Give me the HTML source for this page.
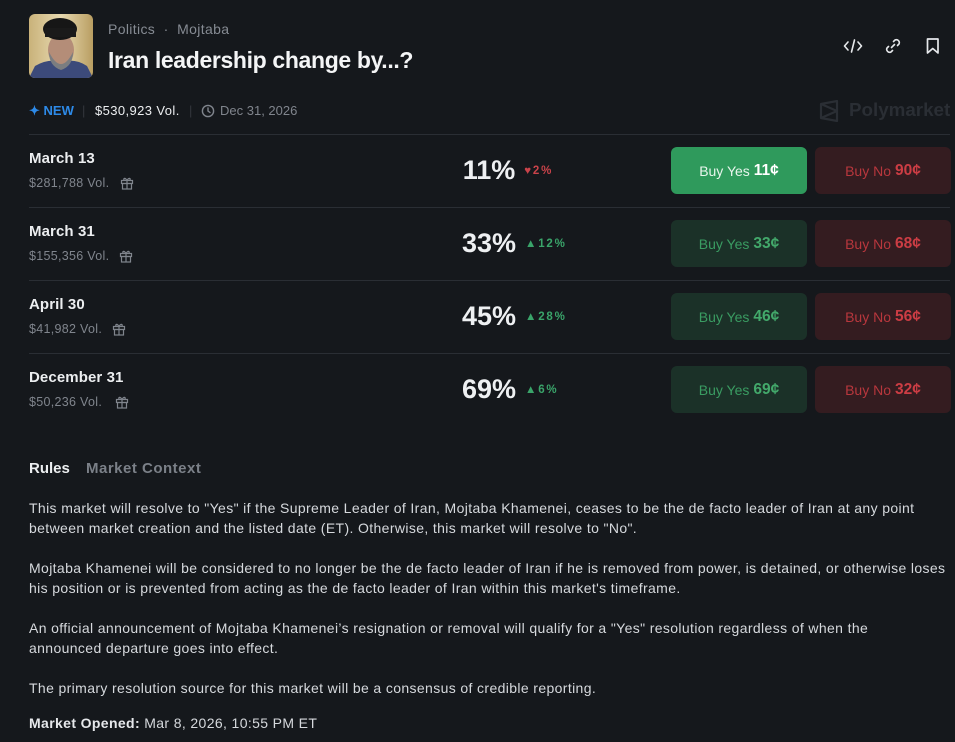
<!DOCTYPE html>
<html><head><meta charset="utf-8">
<style>
*{margin:0;padding:0;box-sizing:border-box}
body{width:955px;height:742px;background:#15181c;font-family:"Liberation Sans",Arial,sans-serif;color:#e6e8eb;position:relative;overflow:hidden}
.a{position:absolute;white-space:nowrap}
.cat{left:108px;top:21px;font-size:14px;color:#868b93;letter-spacing:0.35px}
.title{left:108px;top:47px;font-size:23px;font-weight:bold;color:#f4f5f6;letter-spacing:-0.35px}
.meta{top:103px;font-size:13px}
.hr{position:absolute;left:29px;width:921px;height:1px;background:#2a2e34}
.rt{left:29px;font-size:15px;font-weight:bold;color:#eceef0;letter-spacing:0.1px}
.rv{left:29px;font-size:12.5px;color:#80858d;letter-spacing:0.3px}
.pc{position:absolute;left:389px;width:200px;text-align:center}
.pw{display:inline-block;position:relative;font-size:27px;font-weight:bold;color:#eef0f2;letter-spacing:0}
.ch{position:absolute;top:10px;left:calc(100% + 9px);font-size:11.5px;letter-spacing:1.8px;white-space:nowrap}
.up{color:#3aa46a}.dn{color:#c9434a}
.btn{position:absolute;width:136px;height:47px;border-radius:6px;font-size:14px;display:flex;align-items:center;justify-content:center}
.yes{left:671px;background:#1b3128;color:#3a9c62}
.yes b{font-size:15.5px;margin-left:4px;color:#43a96b}
.yesA{background:#2f9a5c;color:#e8f5ec}
.yesA b{color:#fff}
.no{left:815px;background:#341c20;color:#b8373d}
.no b{font-size:15.5px;margin-left:4px;color:#cc3d44}
.p{left:29px;font-size:14px;color:#d6d9dd;line-height:20px;letter-spacing:0.37px}
</style></head><body>

<!-- avatar -->
<svg class="a" style="left:29px;top:14px" width="64" height="64" viewBox="0 0 64 64">
<defs><clipPath id="c"><rect width="64" height="64" rx="6"/></clipPath>
<linearGradient id="bg" x1="0" x2="1"><stop offset="0" stop-color="#c9b27a"/><stop offset="0.5" stop-color="#e7d9b0"/><stop offset="1" stop-color="#b99e62"/></linearGradient></defs>
<g clip-path="url(#c)">
<rect width="64" height="64" fill="url(#bg)"/>
<path d="M0 64 L6 52 Q20 44 32 48 Q46 44 58 52 L64 64Z" fill="#3c4a7a"/>
<ellipse cx="32" cy="36" rx="13" ry="16" fill="#b48d78"/>
<path d="M20 38 Q32 62 44 38 Q44 52 32 56 Q20 52 20 38Z" fill="#7b7d80"/>
<ellipse cx="31" cy="15" rx="17" ry="11" fill="#161616"/>
<rect x="16" y="14" width="31" height="9" fill="#1a1a1a"/>
</g></svg>

<div class="a cat">Politics&nbsp; ·&nbsp; Mojtaba</div>
<div class="a title">Iran leadership change by...?</div>

<!-- icons -->
<svg class="a" style="left:843px;top:37px" width="20" height="18" viewBox="0 0 20 18" fill="none" stroke="#e6e8eb" stroke-width="1.6" stroke-linecap="round" stroke-linejoin="round"><path d="M5 5 L1.5 9 L5 13"/><path d="M15 5 L18.5 9 L15 13"/><path d="M11.5 3 L8.5 15"/></svg>
<svg class="a" style="left:884px;top:37px" width="18" height="18" viewBox="0 0 18 18" fill="none" stroke="#e6e8eb" stroke-width="1.6" stroke-linecap="round"><path d="M7.5 10.5 L10.5 7.5"/><path d="M9.5 4.5 L11 3 A3 3 0 0 1 15 7 L13.5 8.5"/><path d="M8.5 13.5 L7 15 A3 3 0 0 1 3 11 L4.5 9.5"/></svg>
<svg class="a" style="left:925px;top:37px" width="16" height="18" viewBox="0 0 16 18" fill="none" stroke="#e6e8eb" stroke-width="1.7" stroke-linejoin="round"><path d="M2.5 2 H13 V16 L7.75 11.5 L2.5 16 Z"/></svg>

<!-- meta row -->
<div class="a meta" style="left:29px;color:#2d8ae8;font-weight:bold">✦ NEW</div>
<div class="a meta" style="left:82px;color:#33373d">|</div>
<div class="a meta" style="left:95px;color:#eceef0;letter-spacing:0.4px">$530,923 Vol.</div>
<div class="a meta" style="left:189px;color:#33373d">|</div>
<svg class="a" style="left:201px;top:104px" width="14" height="14" viewBox="0 0 14 14" fill="none" stroke="#80858d" stroke-width="1.4"><circle cx="7" cy="7" r="5.6"/><path d="M7 4 V7 L9 8.5" stroke-linecap="round"/></svg>
<div class="a meta" style="left:220px;color:#80858d">Dec 31, 2026</div>

<!-- polymarket watermark -->
<svg class="a" style="left:818px;top:100px" width="22" height="22" viewBox="0 0 22 22" fill="none" stroke="#2a2e34" stroke-width="2.2" stroke-linejoin="round"><path d="M3 4 L19 1 V21 L3 18 Z"/><path d="M3 4 L19 11 L3 18"/></svg>
<div class="a" style="left:849px;top:99px;font-size:18.8px;font-weight:bold;color:#2a2e34">Polymarket</div>

<div class="hr" style="top:134px"></div>

<!-- row 1 -->
<div class="a rt" style="top:150px">March 13</div>
<div class="a rv" style="top:176px">$281,788 Vol.</div>
<svg class="a gift" style="left:120px;top:176px" width="14" height="14" viewBox="0 0 14 14" fill="none" stroke="#80858d" stroke-width="1.2"><rect x="1.5" y="4.5" width="11" height="3"/><rect x="2.5" y="7.5" width="9" height="5.5"/><path d="M7 4.5 V13"/><path d="M7 4.5 C5 1 2.5 2.5 4.5 4.5 M7 4.5 C9 1 11.5 2.5 9.5 4.5"/></svg>
<div class="pc" style="top:155px"><span class="pw">11%<span class="ch dn">♥2%</span></span></div>
<div class="btn yes yesA" style="top:147px">Buy Yes<b>11¢</b></div>
<div class="btn no" style="top:147px">Buy No<b>90¢</b></div>
<div class="hr" style="top:207px"></div>

<!-- row 2 -->
<div class="a rt" style="top:223px">March 31</div>
<div class="a rv" style="top:249px">$155,356 Vol.</div>
<svg class="a" style="left:119px;top:249px" width="14" height="14" viewBox="0 0 14 14" fill="none" stroke="#80858d" stroke-width="1.2"><rect x="1.5" y="4.5" width="11" height="3"/><rect x="2.5" y="7.5" width="9" height="5.5"/><path d="M7 4.5 V13"/><path d="M7 4.5 C5 1 2.5 2.5 4.5 4.5 M7 4.5 C9 1 11.5 2.5 9.5 4.5"/></svg>
<div class="pc" style="top:228px"><span class="pw">33%<span class="ch up">▲12%</span></span></div>
<div class="btn yes" style="top:220px">Buy Yes<b>33¢</b></div>
<div class="btn no" style="top:220px">Buy No<b>68¢</b></div>
<div class="hr" style="top:280px"></div>

<!-- row 3 -->
<div class="a rt" style="top:296px">April 30</div>
<div class="a rv" style="top:322px">$41,982 Vol.</div>
<svg class="a" style="left:112px;top:322px" width="14" height="14" viewBox="0 0 14 14" fill="none" stroke="#80858d" stroke-width="1.2"><rect x="1.5" y="4.5" width="11" height="3"/><rect x="2.5" y="7.5" width="9" height="5.5"/><path d="M7 4.5 V13"/><path d="M7 4.5 C5 1 2.5 2.5 4.5 4.5 M7 4.5 C9 1 11.5 2.5 9.5 4.5"/></svg>
<div class="pc" style="top:301px"><span class="pw">45%<span class="ch up">▲28%</span></span></div>
<div class="btn yes" style="top:293px">Buy Yes<b>46¢</b></div>
<div class="btn no" style="top:293px">Buy No<b>56¢</b></div>
<div class="hr" style="top:353px"></div>

<!-- row 4 -->
<div class="a rt" style="top:369px">December 31</div>
<div class="a rv" style="top:395px">$50,236 Vol.</div>
<svg class="a" style="left:115px;top:395px" width="14" height="14" viewBox="0 0 14 14" fill="none" stroke="#80858d" stroke-width="1.2"><rect x="1.5" y="4.5" width="11" height="3"/><rect x="2.5" y="7.5" width="9" height="5.5"/><path d="M7 4.5 V13"/><path d="M7 4.5 C5 1 2.5 2.5 4.5 4.5 M7 4.5 C9 1 11.5 2.5 9.5 4.5"/></svg>
<div class="pc" style="top:374px"><span class="pw">69%<span class="ch up">▲6%</span></span></div>
<div class="btn yes" style="top:366px">Buy Yes<b>69¢</b></div>
<div class="btn no" style="top:366px">Buy No<b>32¢</b></div>

<!-- tabs -->
<div class="a" style="left:29px;top:460px;font-size:15px;font-weight:bold;color:#eceef0">Rules</div>
<div class="a" style="left:86px;top:460px;font-size:15px;font-weight:bold;color:#7b8088;letter-spacing:0.5px">Market Context</div>

<!-- rules text -->
<div class="a p" style="top:498px">This market will resolve to "Yes" if the Supreme Leader of Iran, Mojtaba Khamenei, ceases to be the de facto leader of Iran at any point<br>between market creation and the listed date (ET). Otherwise, this market will resolve to "No".</div>
<div class="a p" style="top:558px">Mojtaba Khamenei will be considered to no longer be the de facto leader of Iran if he is removed from power, is detained, or otherwise loses<br>his position or is prevented from acting as the de facto leader of Iran within this market's timeframe.</div>
<div class="a p" style="top:618px">An official announcement of Mojtaba Khamenei’s resignation or removal will qualify for a "Yes" resolution regardless of when the<br>announced departure goes into effect.</div>
<div class="a p" style="top:678px">The primary resolution source for this market will be a consensus of credible reporting.</div>
<div class="a p" style="top:713px"><b style="color:#e6e8eb">Market Opened:</b> Mar 8, 2026, 10:55 PM ET</div>

</body></html>
